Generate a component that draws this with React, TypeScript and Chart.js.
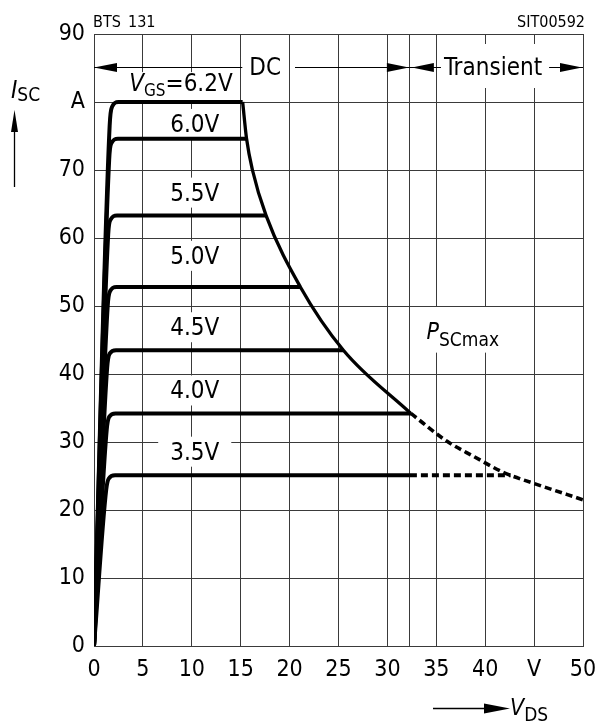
import React, { useEffect, useRef } from 'react';
import { Chart, registerables } from 'chart.js';

Chart.register(...registerables);

// ---------- data ----------
const xTickValues = [0, 5, 10, 15, 20, 25, 30, 35, 40, 45, 50];
const xTickLabels = ['0', '5', '10', '15', '20', '25', '30', '35', '40', 'V', '50'];
const yTickValues = [0, 10, 20, 30, 40, 50, 60, 70, 80, 90];
const yTickLabels = ['0', '10', '20', '30', '40', '50', '60', '70', 'A', '90'];
const boundaryV = 32.3; // DC / transient boundary

const vgsNames = ['6.2V', '6.0V', '5.5V', '5.0V', '4.5V', '4.0V', '3.5V'];

const curve62 = [{ x: 0, y: 0 }, { x: 1.6, y: 76.5 }, { x: 1.85, y: 79.3 }, { x: 2.5, y: 80 }, { x: 15.2, y: 80 }];
const curve60 = [{ x: 0, y: 0 }, { x: 1.55, y: 71.5 }, { x: 1.8, y: 74 }, { x: 2.45, y: 74.6 }, { x: 15.6, y: 74.6 }];
const curve55 = [{ x: 0, y: 0 }, { x: 1.45, y: 60.5 }, { x: 1.7, y: 62.7 }, { x: 2.35, y: 63.3 }, { x: 17.6, y: 63.3 }];
const curve50 = [{ x: 0, y: 0 }, { x: 1.4, y: 50 }, { x: 1.65, y: 52.2 }, { x: 2.3, y: 52.8 }, { x: 21.1, y: 52.8 }];
const curve45 = [{ x: 0, y: 0 }, { x: 1.35, y: 41 }, { x: 1.6, y: 43 }, { x: 2.25, y: 43.5 }, { x: 25.5, y: 43.5 }];
const curve40 = [{ x: 0, y: 0 }, { x: 1.3, y: 31.8 }, { x: 1.55, y: 33.7 }, { x: 2.2, y: 34.2 }, { x: 32.4, y: 34.2 }];
const curve35 = [{ x: 0, y: 0 }, { x: 1.25, y: 23 }, { x: 1.5, y: 24.6 }, { x: 2.15, y: 25.1 }, { x: 32.3, y: 25.1 }];
const curve35Transient = [{ x: 32.3, y: 25.1 }, { x: 42.6, y: 25.1 }];

const powerLimitDC = [
  { x: 15.2, y: 80 }, { x: 15.6, y: 74.6 }, { x: 16.2, y: 70 }, { x: 17.6, y: 63.3 },
  { x: 21.1, y: 52.8 }, { x: 25.5, y: 43.5 }, { x: 32.4, y: 34.2 },
];
const powerLimitTransient = [
  { x: 32.4, y: 34.2 }, { x: 36.1, y: 30.1 }, { x: 38.8, y: 27.9 },
  { x: 41.9, y: 25.5 }, { x: 45, y: 23.9 }, { x: 50, y: 21.5 },
];

// ---------- styling ----------
const FONT = "'Liberation Sans Narrow', 'DejaVu Sans Condensed', 'Liberation Sans', sans-serif";
const GRID = '#3a3a3a';
const INK = '#000';

type Piece = { t: string; size: number; italic?: boolean; dy?: number };

function fontOf(p: Piece) {
  return `${p.italic ? 'italic ' : ''}${p.size}px ${FONT}`;
}

function richWidth(ctx: CanvasRenderingContext2D, pieces: Piece[]) {
  let w = 0;
  for (const p of pieces) {
    ctx.font = fontOf(p);
    w += ctx.measureText(p.t).width;
  }
  return w;
}

function drawRich(ctx: CanvasRenderingContext2D, pieces: Piece[], left: number, baseline: number) {
  let x = left;
  ctx.textAlign = 'left';
  ctx.textBaseline = 'alphabetic';
  ctx.fillStyle = INK;
  for (const p of pieces) {
    ctx.font = fontOf(p);
    ctx.fillText(p.t, x, baseline + (p.dy || 0));
    x += ctx.measureText(p.t).width;
  }
}

function arrowHead(ctx: CanvasRenderingContext2D, tipX: number, tipY: number, dirX: number, dirY: number, len: number, half: number) {
  const bx = tipX - dirX * len;
  const by = tipY - dirY * len;
  const px = -dirY;
  const py = dirX;
  ctx.beginPath();
  ctx.moveTo(tipX, tipY);
  ctx.lineTo(bx + px * half, by + py * half);
  ctx.lineTo(bx - px * half, by - py * half);
  ctx.closePath();
  ctx.fill();
}

const annotations = {
  id: 'annotations',
  beforeDatasetsDraw(chart: any) {
    const { ctx, scales } = chart;
    const xs = scales.x;
    const ys = scales.y;
    const px = (v: number) => xs.getPixelForValue(v);
    const py = (v: number) => ys.getPixelForValue(v);
    ctx.save();

    // DC / Transient arrows row
    const rowY = Math.round(py(85.1)) + 0.5;
    ctx.strokeStyle = INK;
    ctx.fillStyle = INK;
    ctx.lineWidth = 1.2;
    const dcX = px(17.5);
    const trX = px(40.8);
    ctx.font = `24px ${FONT}`;
    const dcW = ctx.measureText('DC').width;
    const trW = ctx.measureText('Transient').width;
    ctx.beginPath();
    ctx.moveTo(px(0), rowY); ctx.lineTo(dcX - dcW / 2 - 7, rowY);
    ctx.moveTo(dcX + dcW / 2 + 14, rowY); ctx.lineTo(px(boundaryV), rowY);
    ctx.stroke();
    // transient white box
    ctx.fillStyle = '#fff';
    ctx.fillRect(trX - trW / 2 - 5, py(90) + 10, trW + 12, 44);
    ctx.fillStyle = INK;
    ctx.beginPath();
    ctx.moveTo(px(boundaryV), rowY); ctx.lineTo(trX - trW / 2 - 3, rowY);
    ctx.moveTo(trX + trW / 2 + 7, rowY); ctx.lineTo(px(50), rowY);
    ctx.stroke();
    arrowHead(ctx, px(0), rowY, -1, 0, 23, 4.5);
    arrowHead(ctx, px(boundaryV) - 1, rowY, 1, 0, 22, 4.5);
    arrowHead(ctx, px(boundaryV) + 2, rowY, -1, 0, 22, 4.5);
    arrowHead(ctx, px(50) - 1, rowY, 1, 0, 22, 4.5);
    ctx.font = `24px ${FONT}`;
    ctx.textAlign = 'center';
    ctx.textBaseline = 'alphabetic';
    ctx.fillText('DC', dcX, py(83.9));
    ctx.fillText('Transient', trX, py(83.9));

    // V_GS = 6.2V label
    const vgsPieces: Piece[] = [
      { t: 'V', size: 24, italic: true },
      { t: 'GS', size: 17, dy: 5 },
      { t: '=' + vgsNames[0], size: 24 },
    ];
    const vgsLeft = px(3.6);
    const vgsBase = py(81.6);
    const vw = richWidth(ctx, vgsPieces);
    ctx.fillStyle = '#fff';
    ctx.fillRect(vgsLeft - 4, vgsBase - 19, vw + 8, 28);
    drawRich(ctx, vgsPieces, vgsLeft, vgsBase);

    // other gate voltage labels
    const labelBase = [75.6, 65.5, 56.2, 45.7, 36.4, 27.4];
    for (let i = 1; i < vgsNames.length; i++) {
      const cx = px(10.3);
      const by = py(labelBase[i - 1]);
      ctx.font = `24px ${FONT}`;
      const w = ctx.measureText(vgsNames[i]).width;
      ctx.fillStyle = '#fff';
      ctx.fillRect(cx - w / 2 - 12, by - 23, w + 24, 30);
      ctx.fillStyle = INK;
      ctx.textAlign = 'center';
      ctx.textBaseline = 'alphabetic';
      ctx.fillText(vgsNames[i], cx, by);
    }

    // P_SCmax label
    const pPieces: Piece[] = [
      { t: 'P', size: 23, italic: true },
      { t: 'SCmax', size: 19, dy: 7 },
    ];
    const pLeft = px(34.0);
    const pBase = py(45.2);
    const pw = richWidth(ctx, pPieces);
    ctx.fillStyle = '#fff';
    ctx.fillRect(pLeft - 8, py(50) + 1, pw + 14, pBase + 13 - py(50));
    drawRich(ctx, pPieces, pLeft, pBase);

    ctx.restore();
  },
  afterDraw(chart: any) {
    const { ctx, chartArea } = chart;
    ctx.save();
    ctx.fillStyle = INK;
    ctx.strokeStyle = INK;
    // header texts
    ctx.font = `16px ${FONT}`;
    ctx.textBaseline = 'alphabetic';
    ctx.textAlign = 'left';
    ctx.fillText('BTS', chartArea.left - 1, 27);
    ctx.fillText('131', chartArea.left + 34, 27);
    ctx.textAlign = 'right';
    ctx.fillText('SIT00592', chartArea.right + 2, 27);

    // y axis title: I_SC with upward arrow
    drawRich(ctx, [
      { t: 'I', size: 24, italic: true },
      { t: 'SC', size: 19, dy: 3 },
    ], 11, 98);
    ctx.lineWidth = 1.3;
    ctx.beginPath();
    ctx.moveTo(14.5, 187); ctx.lineTo(14.5, 125);
    ctx.stroke();
    arrowHead(ctx, 14.5, 110, 0, -1, 22, 3.5);

    // x axis title: arrow with V_DS
    ctx.beginPath();
    ctx.moveTo(433, 708.5); ctx.lineTo(490, 708.5);
    ctx.stroke();
    arrowHead(ctx, 510, 708.5, 1, 0, 26, 5);
    drawRich(ctx, [
      { t: 'V', size: 23, italic: true },
      { t: 'DS', size: 19, dy: 6 },
    ], 510, 715);
    ctx.restore();
  },
};

export default function App() {
  const ref = useRef<HTMLCanvasElement | null>(null);

  useEffect(() => {
    const canvas = ref.current;
    if (!canvas) return;
    const solid = (data: { x: number; y: number }[], width: number) => ({
      data,
      borderColor: INK,
      borderWidth: width,
      pointRadius: 0,
      fill: false,
      cubicInterpolationMode: 'monotone' as const,
    });
    const dashed = (data: { x: number; y: number }[], width: number) => ({
      ...solid(data, width),
      borderDash: [7, 4],
    });

    const chart = new Chart(canvas, {
      type: 'line',
      data: {
        datasets: [
          solid(curve62, 4),
          solid(curve60, 4),
          solid(curve55, 4),
          solid(curve50, 4),
          solid(curve45, 4),
          solid(curve40, 4),
          solid(curve35, 4),
          dashed(curve35Transient, 4),
          solid(powerLimitDC, 3.3),
          dashed(powerLimitTransient, 3.6),
        ] as any,
      },
      plugins: [annotations],
      options: {
        animation: false,
        responsive: false,
        maintainAspectRatio: false,
        layout: { padding: { left: 0, right: 16, top: 34, bottom: 0 } },
        plugins: { legend: { display: false }, tooltip: { enabled: false } },
        elements: { point: { radius: 0 }, line: { borderJoinStyle: 'round' } },
        scales: {
          x: {
            type: 'linear',
            min: 0,
            max: 50,
            afterFit: (s: any) => { s.height = 76; s.paddingLeft = 0; s.paddingRight = 0; },
            afterBuildTicks: (s: any) => {
              s.ticks = [...xTickValues, boundaryV]
                .sort((a, b) => a - b)
                .map((v) => ({ value: v }));
            },
            ticks: {
              autoSkip: false,
              maxRotation: 0,
              padding: 10,
              color: INK,
              font: { family: FONT, size: 23 },
              callback: (v: any) => {
                const i = xTickValues.indexOf(Number(v));
                return i >= 0 ? xTickLabels[i] : '';
              },
            },
            grid: { color: GRID, lineWidth: 1, drawTicks: false },
            border: { display: true, color: GRID, width: 1 },
          },
          y: {
            type: 'linear',
            min: 0,
            max: 90,
            afterFit: (s: any) => { s.width = 94; s.paddingTop = 0; s.paddingBottom = 0; },
            afterBuildTicks: (s: any) => {
              s.ticks = yTickValues.map((v) => ({ value: v }));
            },
            ticks: {
              autoSkip: false,
              padding: 9,
              color: INK,
              font: { family: FONT, size: 23 },
              callback: (v: any) => {
                const i = yTickValues.indexOf(Number(v));
                return i >= 0 ? yTickLabels[i] : '';
              },
            },
            grid: { color: GRID, lineWidth: 1, drawTicks: false },
            border: { display: true, color: GRID, width: 1 },
          },
        },
      },
    });
    return () => chart.destroy();
  }, []);

  return (
    <div style={{ position: 'fixed', left: 0, top: 0, width: 599, height: 722, background: '#fff' }}>
      <canvas ref={ref} width={599} height={722} style={{ display: 'block', width: 599, height: 722 }} />
    </div>
  );
}
